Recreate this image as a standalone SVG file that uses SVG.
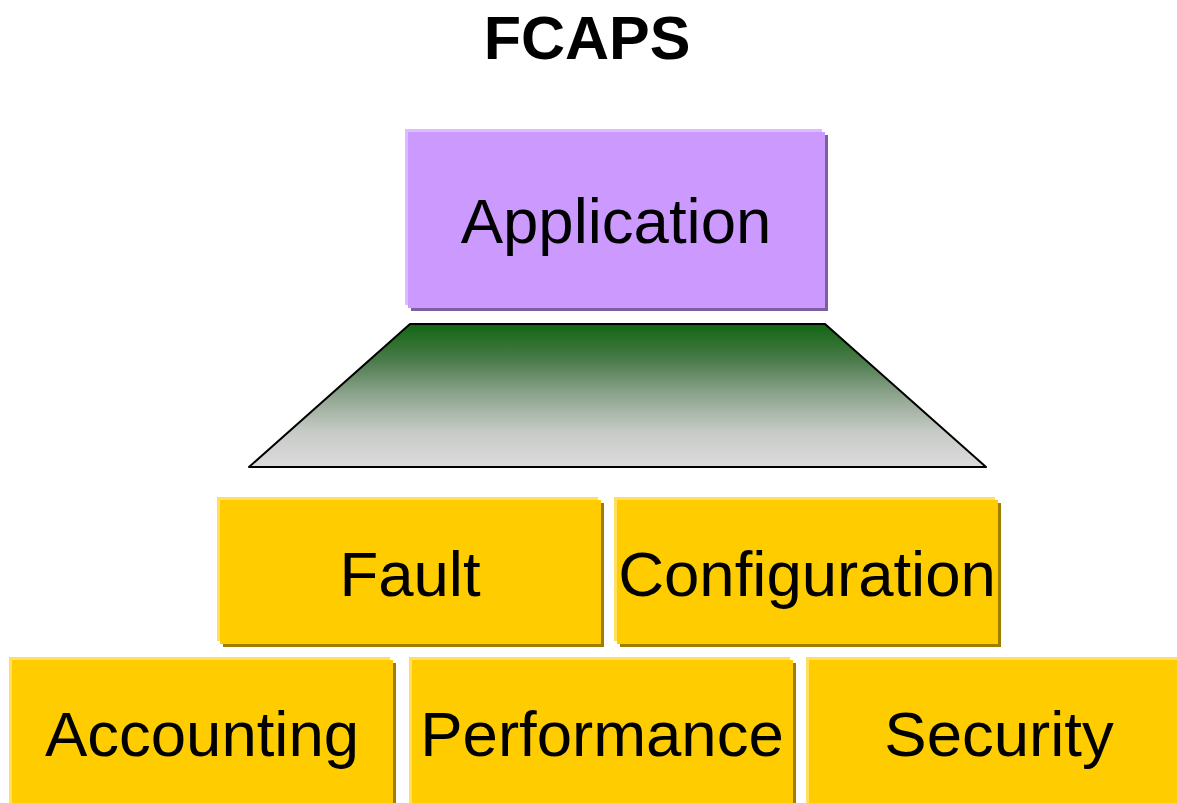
<svg xmlns="http://www.w3.org/2000/svg" width="1177" height="803" viewBox="0 0 1177 803">
  <defs>
    <linearGradient id="funnelFill" x1="0" y1="0" x2="0" y2="1">
      <stop offset="0" stop-color="#116611"/>
      <stop offset="0.25" stop-color="#4A7A4A"/>
      <stop offset="0.5" stop-color="#8FA58F"/>
      <stop offset="0.75" stop-color="#C6CAC6"/>
      <stop offset="1" stop-color="#DCDCDC"/>
    </linearGradient>
  </defs>
  <style>
    .label { font-family: "Liberation Sans", Arial, sans-serif; font-size: 63.5px; fill: #000; text-anchor: middle; }
    .title { font-family: "Liberation Sans", Arial, sans-serif; font-size: 61px; font-weight: bold; fill: #000; text-anchor: middle; }
    .y-hi { fill: #FFDF60; }
    .y-sh { fill: #9E7E00; }
    .y-face { fill: #FFCC00; }
    .p-hi { fill: #DEBBFF; }
    .p-sh { fill: #7E5E9E; }
    .p-face { fill: #CC99FF; }
  </style>

  <rect width="1177" height="803" fill="#FFFFFF"/>

  <text class="title" x="587" y="59">FCAPS</text>

  <!-- top layer -->
  <g id="application">
    <rect class="p-hi" x="405" y="129" width="417" height="176"/>
    <rect class="p-sh" x="411" y="135" width="417" height="176"/>
    <rect class="p-face" x="408" y="132" width="417" height="176"/>
    <text class="label" x="616" y="243" font-size="63">Application</text>
  </g>

  <!-- funnel between application and management areas -->
  <g id="funnel">
    <polygon points="410,324 825,324 986,467 249,467" fill="url(#funnelFill)" stroke="#000" stroke-width="2" stroke-linejoin="round"/>
  </g>

  <g id="connectors"></g>

  <!-- management functional areas -->
  <g id="fault">
    <rect class="y-hi" x="217" y="497" width="381" height="144"/>
    <rect class="y-sh" x="223" y="503" width="381" height="144"/>
    <rect class="y-face" x="220" y="500" width="381" height="144"/>
    <text class="label" x="410" y="596">Fault</text>
  </g>

  <g id="configuration">
    <rect class="y-hi" x="614" y="497" width="381" height="144"/>
    <rect class="y-sh" x="620" y="503" width="381" height="144"/>
    <rect class="y-face" x="617" y="500" width="381" height="144"/>
    <text class="label" x="807" y="596">Configuration</text>
  </g>

  <g id="accounting">
    <rect class="y-hi" x="9" y="657" width="381" height="150"/>
    <rect class="y-sh" x="15" y="663" width="381" height="150"/>
    <rect class="y-face" x="12" y="660" width="381" height="150"/>
    <text class="label" x="202" y="756">Accounting</text>
  </g>

  <g id="performance">
    <rect class="y-hi" x="409" y="657" width="381" height="150"/>
    <rect class="y-sh" x="415" y="663" width="381" height="150"/>
    <rect class="y-face" x="412" y="660" width="381" height="150"/>
    <text class="label" x="602" y="756">Performance</text>
  </g>

  <g id="security">
    <rect class="y-hi" x="806" y="657" width="381" height="150"/>
    <rect class="y-sh" x="812" y="663" width="381" height="150"/>
    <rect class="y-face" x="809" y="660" width="381" height="150"/>
    <text class="label" x="999" y="756">Security</text>
  </g>
</svg>
